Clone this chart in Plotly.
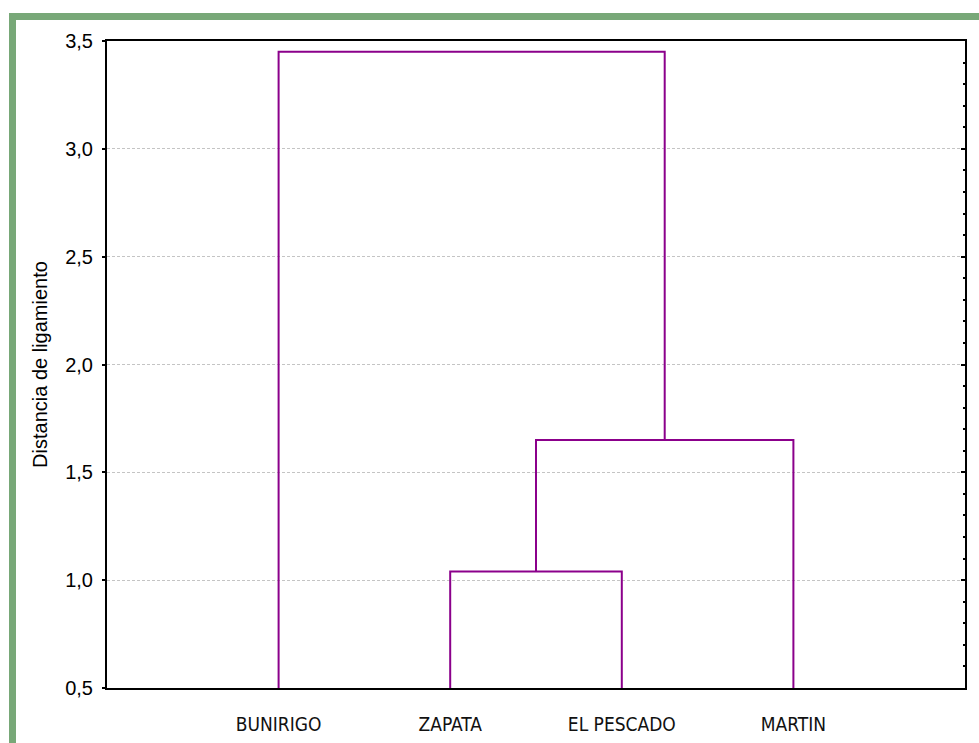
import plotly.graph_objects as go

# Data
labels = ["BUNIRIGO", "ZAPATA", "EL PESCADO", "MARTIN"]
# merges: (left member, right member, linkage distance); members are leaf names or cluster ids "C0", "C1"...
merge_left = ["ZAPATA", "C0", "BUNIRIGO"]
merge_right = ["EL PESCADO", "MARTIN", "C1"]
merge_height = [1.04, 1.65, 3.45]
y_ticks = [0.5, 1.0, 1.5, 2.0, 2.5, 3.0, 3.5]

LINE = "#8b008b"
GREEN = "#78a878"

pos = {name: i + 1 for i, name in enumerate(labels)}
hgt = {name: 0.5 for name in labels}

fig = go.Figure()
for i, (a, b, h) in enumerate(zip(merge_left, merge_right, merge_height)):
    xa, xb = pos[a], pos[b]
    fig.add_trace(go.Scatter(
        x=[xa, xa, xb, xb], y=[hgt[a], h, h, hgt[b]],
        mode="lines", line=dict(color=LINE, width=2), showlegend=False,
        hoverinfo="skip"))
    cid = f"C{i}"
    pos[cid] = (xa + xb) / 2
    hgt[cid] = h

# invisible trace for secondary y axis (right side minor ticks)
fig.add_trace(go.Scatter(x=[None], y=[None], yaxis="y2", showlegend=False))

fig.update_layout(
    template="none",
    width=979, height=743,
    margin=dict(l=107, r=14, t=41, b=55, autoexpand=False),
    paper_bgcolor="white", plot_bgcolor="white",
    separators=",.",
    font=dict(family="Liberation Sans, Arial", size=20, color="black"),
    xaxis=dict(
        range=[0, 5], tickvals=[1, 2, 3, 4], ticktext=labels,
        showgrid=False, zeroline=False, automargin=False,
        showline=True, linecolor="black", linewidth=2, mirror=True,
        ticks="", ticklabelstandoff=18,
        tickfont=dict(family="DejaVu Sans Condensed, DejaVu Sans", size=19, color="#111"),
    ),
    yaxis=dict(
        range=[0.5, 3.5], tickvals=y_ticks, tickformat=".1f",
        showgrid=True, gridcolor="#c4c4c4", griddash="3px,2px", gridwidth=1,
        zeroline=False, automargin=False,
        showline=True, linecolor="black", linewidth=2,
        ticks="outside", ticklen=3, tickcolor="black", tickwidth=2,
        ticklabelstandoff=5,
        tickfont=dict(size=20),
        title=dict(text="Distancia de ligamiento", standoff=12,
                   font=dict(family="Liberation Sans, Arial", size=20)),
    ),
    yaxis2=dict(
        overlaying="y", side="right", range=[0.5, 3.5], automargin=False,
        tickvals=y_ticks, showticklabels=False, showgrid=False, zeroline=False,
        showline=True, linecolor="black", linewidth=2,
        ticks="inside", ticklen=4, tickcolor="black", tickwidth=2,
        minor=dict(ticks="inside", dtick=0.1, tick0=0.5, ticklen=2,
                   tickcolor="black", tickwidth=2, showgrid=False),
    ),
    shapes=[
        dict(type="rect", xref="paper", yref="paper",
             x0=(9 - 107) / 858, x1=(979 - 107) / 858,
             y0=(688 - 20) / 647, y1=(688 - 13) / 647,
             fillcolor=GREEN, line=dict(width=0), layer="above"),
        dict(type="rect", xref="paper", yref="paper",
             x0=(9 - 107) / 858, x1=(16 - 107) / 858,
             y0=(688 - 743) / 647, y1=(688 - 13) / 647,
             fillcolor=GREEN, line=dict(width=0), layer="above"),
    ],
)

fig.write_html("out.html", config={"displayModeBar": False},
               post_script="document.body.style.margin='0';document.body.style.overflow='hidden';")
